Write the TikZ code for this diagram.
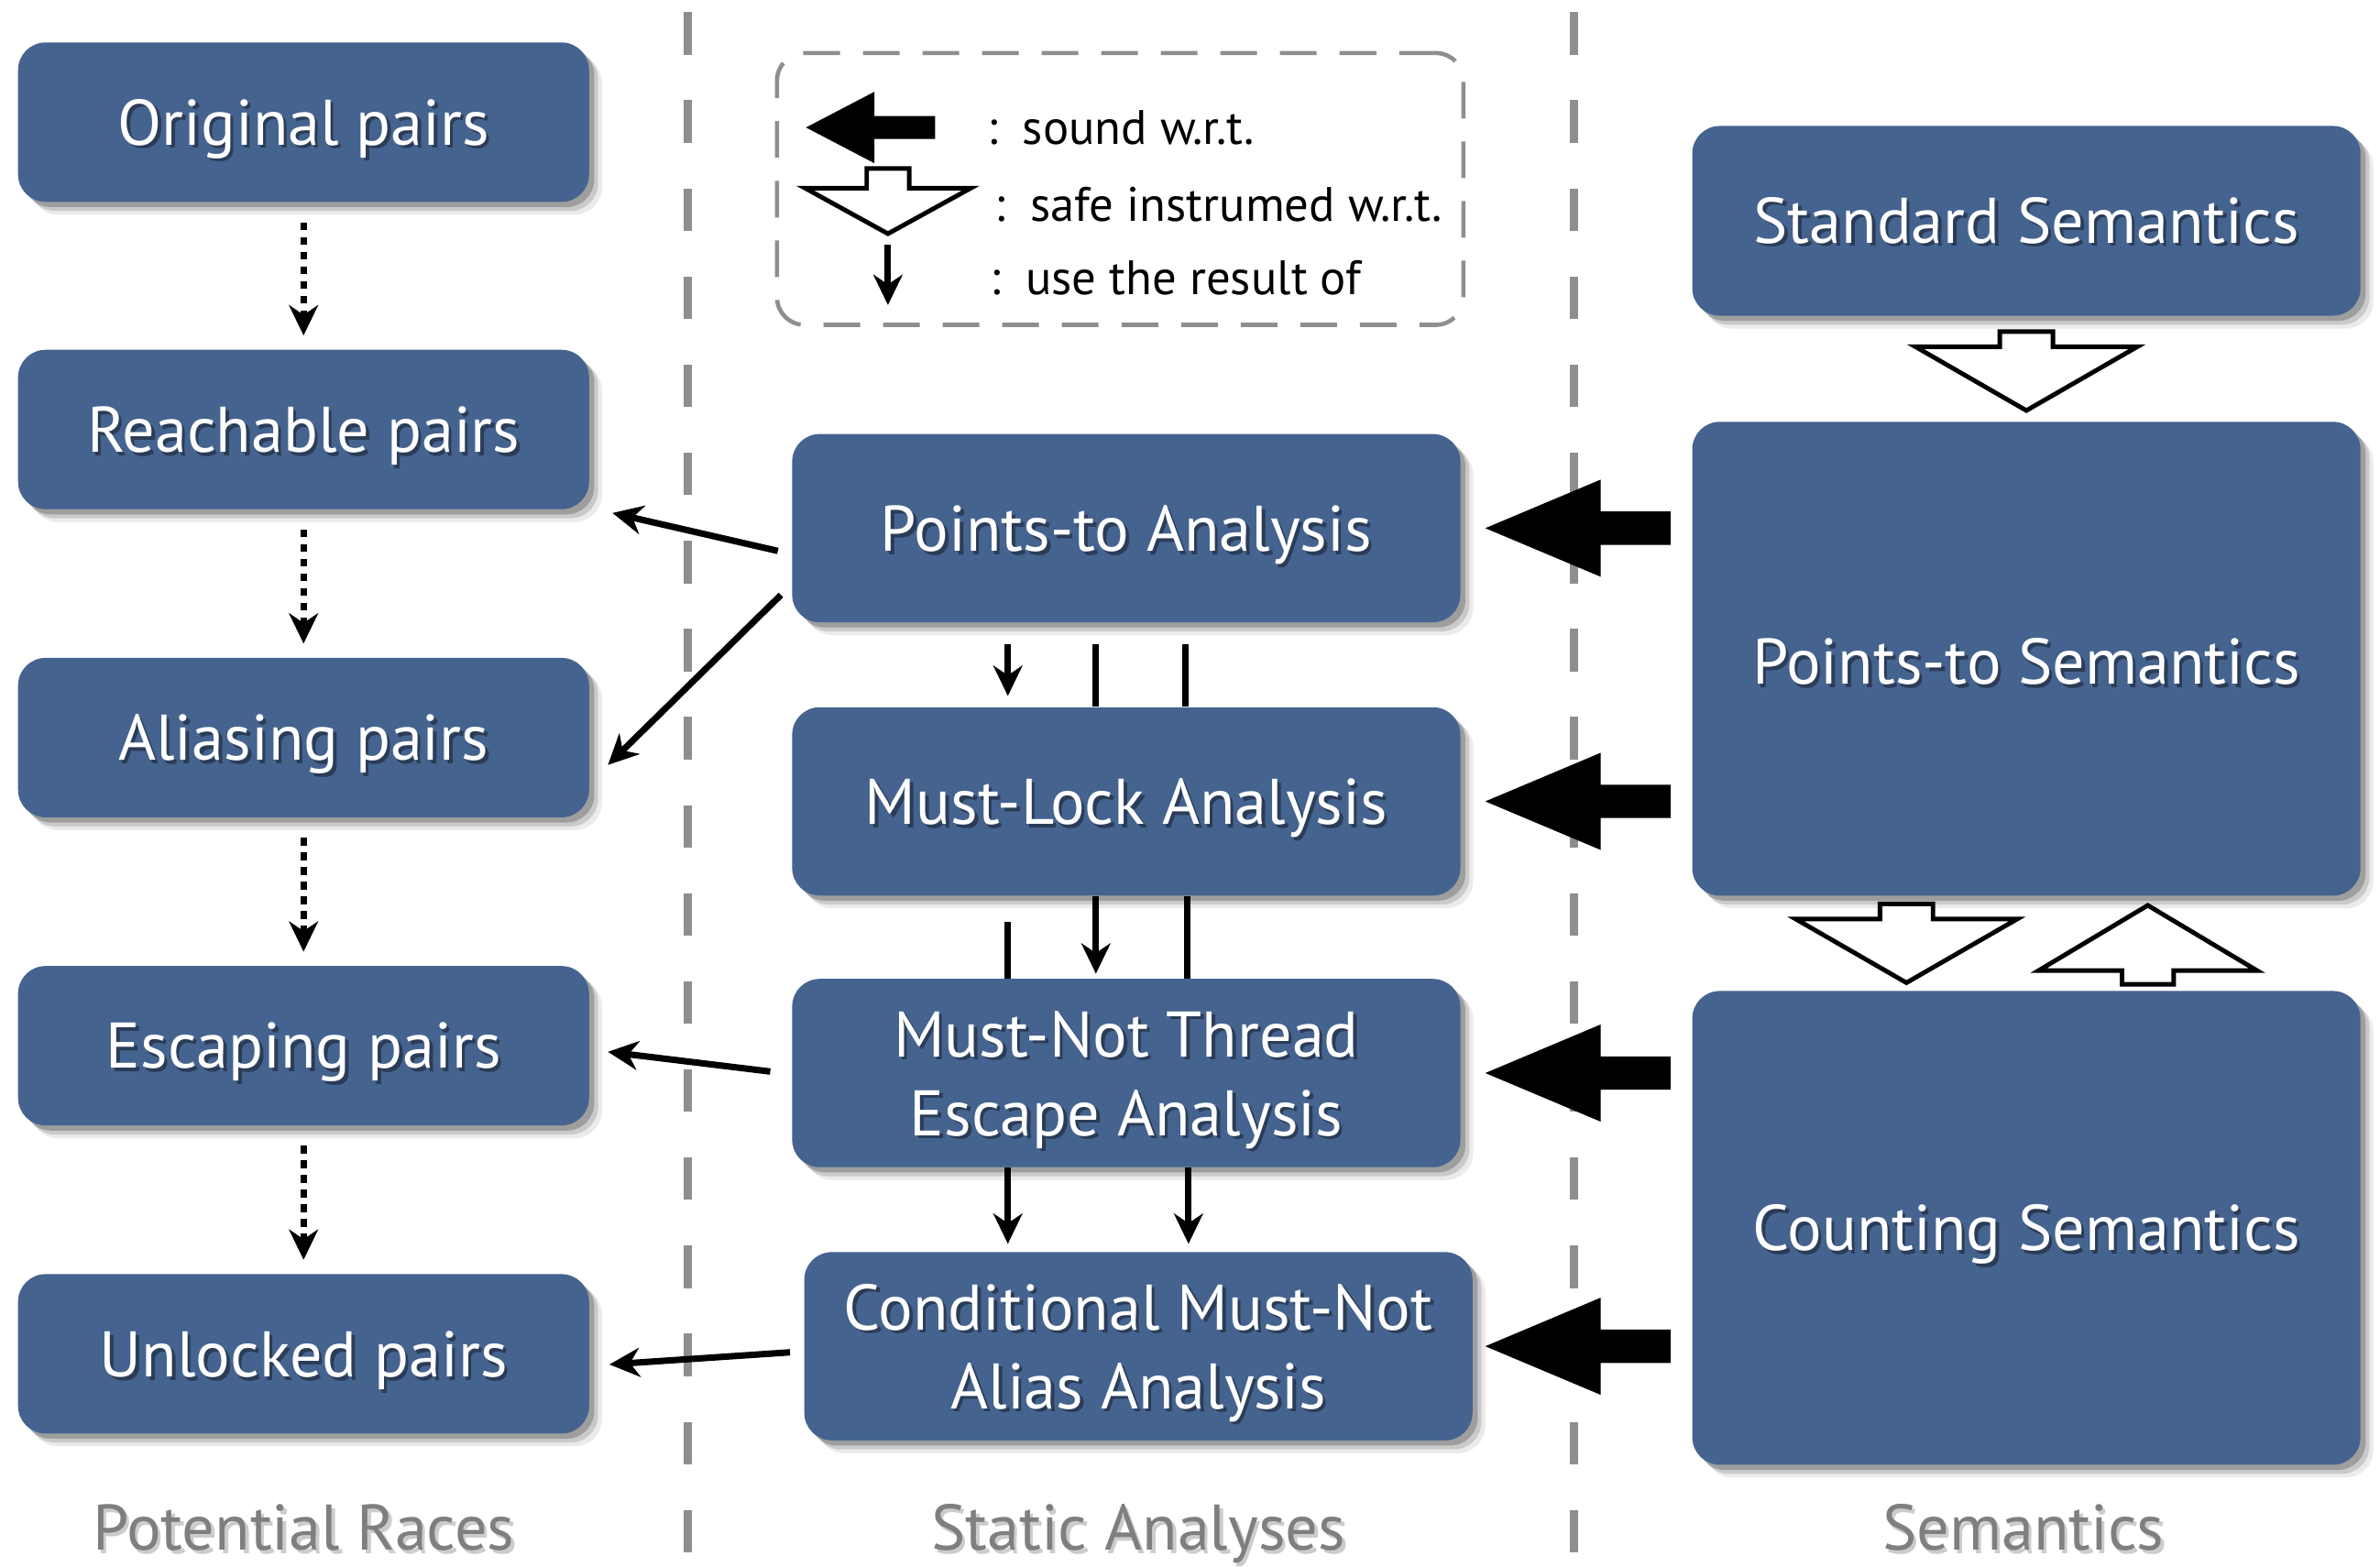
\documentclass[tikz,border=0pt]{standalone}
\usepackage{fontspec}
\setmainfont{PT Sans}
\usetikzlibrary{arrows.meta,shadows,calc}
\definecolor{boxblue}{HTML}{45638F}
\definecolor{guide}{HTML}{8E8E8E}
\definecolor{txtshade}{HTML}{2B3C57}
\definecolor{capgray}{HTML}{7F7F7F}
% white label with a dark offset copy underneath, set a little low in its box
\newcommand\shd[1]{\raisebox{-2.6pt}[\height][\depth]{\rlap{\kern1pt\raisebox{-1pt}{\textcolor{txtshade}{#1}}}#1}}
% grey caption with a faint offset copy underneath
\newcommand\lshd[1]{\leavevmode\rlap{\kern1pt\raisebox{-1.2pt}{\textcolor{black!20}{#1}}}#1}

\begin{document}
\begin{tikzpicture}[x=0.016563cm, y=-0.016563cm,
  softshadow/.style={
    general shadow={fill=black,opacity=0.08,shadow xshift=4pt,shadow yshift=-4pt},
    general shadow={fill=black,opacity=0.14,shadow xshift=2.8pt,shadow yshift=-2.8pt},
    general shadow={fill=black,opacity=0.22,shadow xshift=1.6pt,shadow yshift=-1.6pt}},
  box/.style={softshadow, fill=boxblue, rounded corners=0.3cm, text=white,
    font=\fontsize{20}{24.4}\selectfont, align=center, inner sep=0pt},
  racebox/.style={box, minimum width=6.228cm, minimum height=1.739cm},
  anabox/.style={box, minimum width=7.288cm, minimum height=2.054cm},
  stdbox/.style={box, minimum width=7.288cm, minimum height=2.070cm},
  bigbox/.style={box, minimum width=7.288cm, minimum height=5.168cm},
  guideline/.style={guide, line width=2.4pt, dash pattern=on 0.464cm off 0.497cm},
  uses/.style={line width=2pt, -{Stealth[length=9.4pt,width=9pt,inset=3pt]}},
  usesline/.style={line width=2pt},
  refines/.style={line width=2pt, dash pattern=on 0.085cm off 0.075cm,
    -{Stealth[length=9.4pt,width=9pt,inset=3pt]}},
  legendframe/.style={draw=guide, line width=1.3pt, rounded corners=0.3cm,
    dash pattern=on 0.40cm off 0.25cm, minimum width=7.486cm, minimum height=2.965cm},
  legtext/.style={font=\fontsize{15}{17}\selectfont, inner sep=0pt, anchor=west},
  caption/.style={font=\fontsize{20}{24.4}\selectfont, text=capgray, inner sep=0pt, anchor=base},
  hollow/.style={draw=black, fill=white, line width=1.4pt, line join=miter},
  fatarrow/.pic={\fill[black] (0,0) -- (76,-32) -- (76,-11) -- (122,-11) -- (122,11)
    -- (76,11) -- (76,32) -- cycle;},
  hollowdown/.pic={\draw[hollow] (0,0) -- (-73,-42) -- (-17.5,-42) -- (-17.5,-52)
    -- (17.5,-52) -- (17.5,-42) -- (73,-42) -- cycle;},
  hollowup/.pic={\draw[hollow] (0,0) -- (-72,43) -- (-17,43) -- (-17,52)
    -- (17,52) -- (17,43) -- (72,43) -- cycle;}
]
\useasboundingbox (0,0) rectangle (1568,1032);

% column separators
\draw[guideline] (453,8) -- (453,1032);
\draw[guideline] (1037,8) -- (1037,1032);

% legend
\node[legendframe] (legend) at (738,124.5) {};
\fill[black] (531,84) -- (576,60.5) -- (576,76.5) -- (616,76.5) -- (616,91.5)
  -- (576,91.5) -- (576,107.5) -- cycle;
\draw[hollow] (585,154) -- (530.5,124) -- (571,124) -- (571,111) -- (599,111)
  -- (599,124) -- (639.5,124) -- cycle;
\coordinate (legtop) at (585,161);
\coordinate (legtip) at (585,201);
\draw[uses] (legtop) -- (legtip);
\node[legtext] (lsound) at (650,84) {:\hspace{0.27cm}sound w.r.t.};
\node[legtext] (lsafe) at (655,135) {:\hspace{0.27cm}safe instrumed w.r.t.};
\node[legtext] (luse) at (652,183) {:\hspace{0.27cm}use the result of};

% potential races
\node[racebox] (orig)  at (200,80.5) {\shd{Original pairs}};
\node[racebox] (reach) at (200,283)  {\shd{Reachable pairs}};
\node[racebox] (alias) at (200,486)  {\shd{Aliasing pairs}};
\node[racebox] (esc)   at (200,689)  {\shd{Escaping pairs}};
\node[racebox] (unl)   at (200,892)  {\shd{Unlocked pairs}};

% static analyses
\node[anabox] (pta)  at (742,348) {\shd{Points-to Analysis}};
\node[anabox] (mla)  at (742,528) {\shd{Must-Lock Analysis}};
\node[anabox] (mnt)  at (742,707) {\shd{Must-Not Thread}\\\shd{Escape Analysis}};
\node[anabox] (cmna) at (750,887) {\shd{Conditional Must-Not}\\\shd{Alias Analysis}};

% semantics
\node[stdbox] (std) at (1335,145.5) {\raisebox{2.2pt}[\height][\depth]{\shd{Standard Semantics}}};
\node[bigbox] (pts) at (1335,434)   {\raisebox{1.2pt}[\height][\depth]{\shd{Points-to Semantics}}};
\node[bigbox] (cnt) at (1335,809)   {\shd{Counting Semantics}};

% captions
\node[caption] (capraces) at (200,1021) {\lshd{Potential Races}};
\node[caption] (capstatic) at (750,1021) {\lshd{Static Analyses}};
\node[caption] (capsem) at (1333,1021) {\lshd{Semantics}};

% refinement chain of race pairs
\draw[refines] ($(orig.south)+(0,13)$)  -- ($(reach.north)+(0,-9)$);
\draw[refines] ($(reach.south)+(0,13)$) -- ($(alias.north)+(0,-9)$);
\draw[refines] ($(alias.south)+(0,13)$) -- ($(esc.north)+(0,-9)$);
\draw[refines] ($(esc.south)+(0,13)$)   -- ($(unl.north)+(0,-9)$);

% analyses feeding the race pairs
\draw[uses] ($(pta.west)+(-9,15)$)  -- ($(reach.east)+(15,55)$);
\draw[uses] ($(pta.west)+(-7,44)$)  -- ($(alias.east)+(12,18)$);
\draw[uses] ($(mnt.west)+(-14,-1)$) -- ($(esc.east)+(12,4)$);
\draw[uses] ($(cmna.west)+(-9,4)$)  -- ($(unl.east)+(13,7)$);

% dependencies between analyses
\draw[uses]     ($(pta.south)+(-78,14)$) -- ($(mla.north)+(-78,-7)$);
\draw[usesline] ($(pta.south)+(-20,14)$) -- (mla.north -| {$(pta.south)+(-20,0)$});
\draw[usesline] ($(pta.south)+(39,14)$)  -- (mla.north -| {$(pta.south)+(39,0)$});
\draw[usesline] ($(mla.south)+(-78,17)$) -- (mnt.north -| {$(mla.south)+(-78,0)$});
\draw[uses]     ($(mla.south)+(-20,0)$)  -- ($(mnt.north)+(-20,-3)$);
\draw[usesline] ($(mla.south)+(40,0)$)   -- (mnt.north -| {$(mla.south)+(40,0)$});
\draw[uses]     ($(mnt.south)+(-78,0)$)  -- ($(cmna.north)+(-86,-5)$);
\draw[uses]     ($(mnt.south)+(41,0)$)   -- ($(cmna.north)+(33,-5)$);

% soundness of analyses w.r.t. semantics
\pic at ($(pta.east)+(16,0)$)  {fatarrow};
\pic at ($(mla.east)+(16,0)$)  {fatarrow};
\pic at ($(mnt.east)+(16,0)$)  {fatarrow};
\pic at ($(cmna.east)+(8,0)$)  {fatarrow};

% instrumentation between semantics
\pic at ($(pts.north)+(0,-7)$)  {hollowdown};
\pic at ($(cnt.north)+(-79,-5)$) {hollowdown};
\pic at ($(pts.south)+(80,6)$)  {hollowup};
\end{tikzpicture}
\end{document}
